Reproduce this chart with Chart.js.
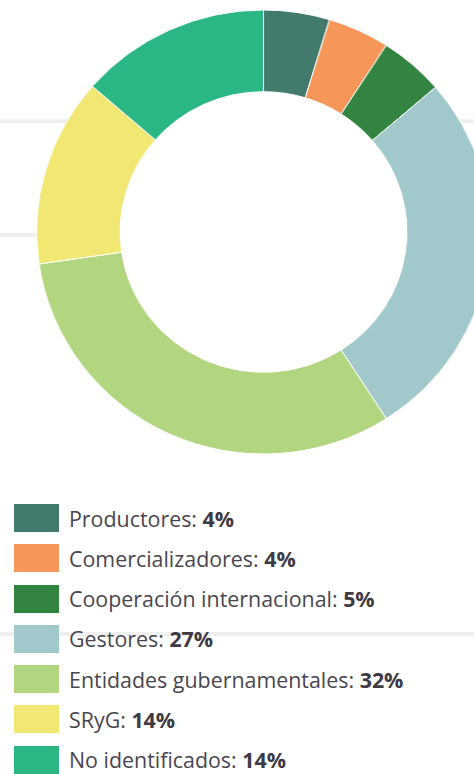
<!DOCTYPE html>
<html lang="es">
<head>
<meta charset="utf-8">
<title>Actores</title>
<script src="https://cdn.jsdelivr.net/npm/chart.js@4.4.1/dist/chart.umd.min.js"></script>
<style>
  html, body { margin: 0; padding: 0; background: #fff; overflow: hidden; }
  body { width: 474px; height: 774px; position: relative; font-family: 'Open Sans', 'Noto Sans', sans-serif; }
  .rule { position: absolute; left: 0; width: 474px; height: 4px; background: #efefef; }
  .pie-wrap {
    position: absolute; left: 32px; top: 0; width: 463px; height: 464px;
    transform: scaleX(1.022); transform-origin: 50% 50%;
  }
  .legend { position: absolute; left: 14px; top: 504px; margin: 0; padding: 0; list-style: none; }
  .legend li { display: flex; align-items: center; height: 28px; margin-bottom: 12.3px; white-space: nowrap; }
  .legend .sw { width: 45px; height: 28px; margin-right: 10px; flex: none; }
  .legend .txt { font-size: 21.4px; color: #4a4650; }
  .legend b { color: #3e3a44; font-weight: 700; }
</style>
</head>
<body>
  <div class="rule" style="top:119px"></div>
  <div class="rule" style="top:233px"></div>
  <div class="rule" style="top:632px"></div>

  <div class="pie-wrap"><canvas id="actor-chart"></canvas></div>
  <ul class="legend" id="legend"></ul>

<script>
  // datos
  const labels = ['Productores', 'Comercializadores', 'Cooperación internacional', 'Gestores',
                  'Entidades gubernamentales', 'SRyG', 'No identificados'];
  // tamaño de cada porción
  const values = [4.7, 4.4, 4.6, 27.2, 31.8, 13.7, 13.6];
  // porcentajes que muestra la leyenda
  const pctLabels = ['4%', '4%', '5%', '27%', '32%', '14%', '14%'];
  const colors = ['#437a6e', '#f79659', '#348441', '#a1c8ca', '#b2d57f', '#f0e873', '#2bb783'];

  // el hueco del centro va en blanco (tapa las líneas del fondo)
  const holeFill = {
    id: 'holeFill',
    beforeDatasetsDraw(chart) {
      const arc = chart.getDatasetMeta(0).data[0];
      if (!arc) return;
      const ctx = chart.ctx;
      ctx.save();
      ctx.fillStyle = '#fff';
      ctx.beginPath();
      ctx.arc(arc.x, arc.y, arc.innerRadius, 0, Math.PI * 2);
      ctx.fill();
      ctx.restore();
    }
  };

  function drawPie() {
    const $canvas = document.getElementById('actor-chart').getContext('2d');
    new Chart($canvas, {
      type: 'doughnut',
      data: {
        labels: labels,
        datasets: [{
          data: values,
          backgroundColor: colors,
          borderColor: '#fff',
          borderWidth: 1,
        }]
      },
      options: {
        responsive: true,
        maintainAspectRatio: false,
        animation: false,
        radius: 222,
        cutout: '63.2%',
        plugins: {
          legend: { display: false },
          tooltip: { enabled: false },
        },
      },
      plugins: [holeFill],
    });
  }

  function drawLegend() {
    const $legend = document.getElementById('legend');
    labels.forEach((label, i) => {
      const li = document.createElement('li');
      const sw = document.createElement('span');
      sw.className = 'sw';
      sw.style.background = colors[i];
      const txt = document.createElement('span');
      txt.className = 'txt';
      txt.append(label + ': ');
      const b = document.createElement('b');
      b.textContent = pctLabels[i];
      txt.appendChild(b);
      li.append(sw, txt);
      $legend.appendChild(li);
    });
  }

  drawPie();
  drawLegend();
</script>
</body>
</html>
